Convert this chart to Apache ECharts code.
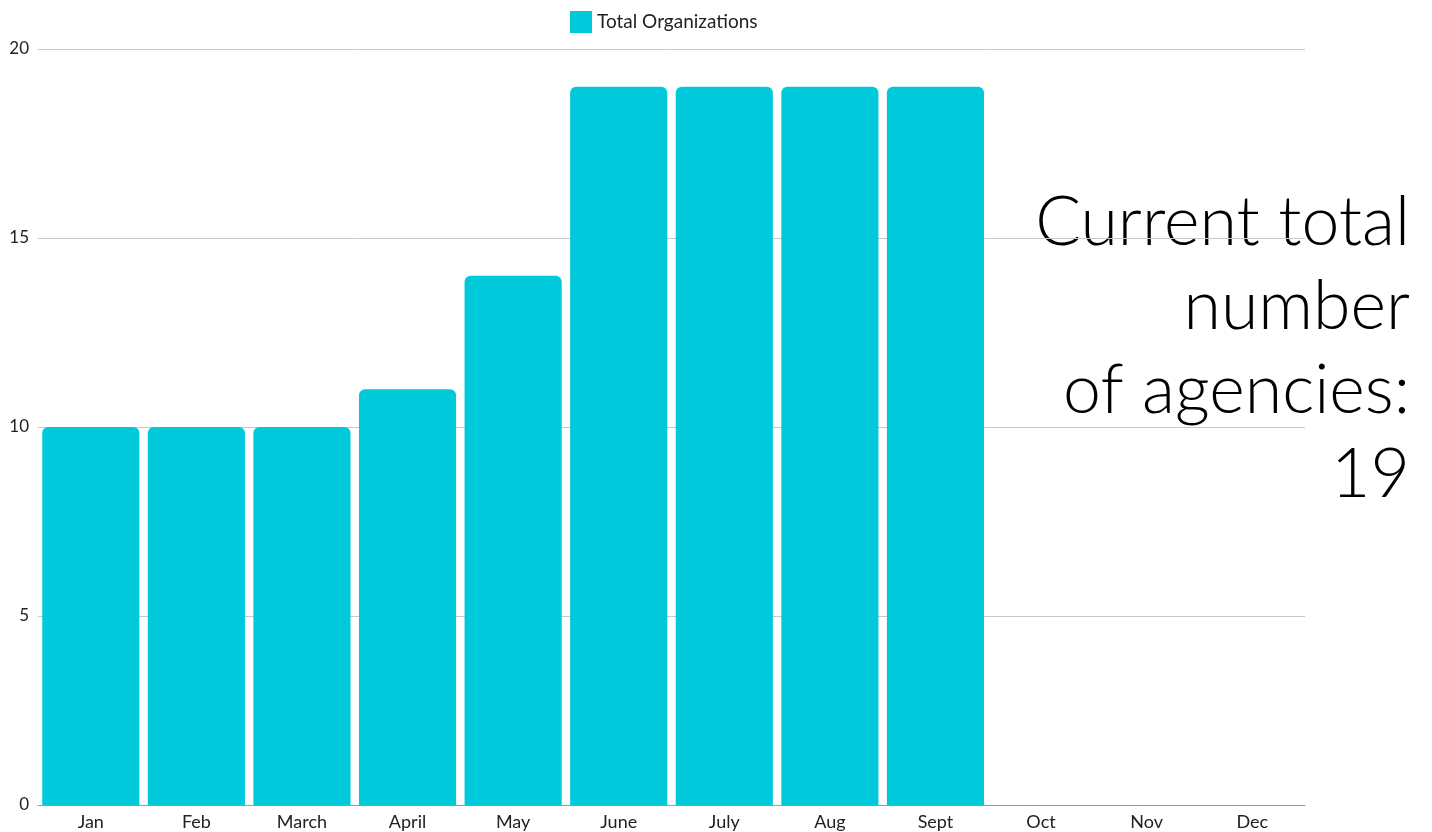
<!DOCTYPE html>
<html><head><meta charset="utf-8">
<script src="https://cdn.jsdelivr.net/npm/echarts@6/dist/echarts.min.js"></script>
<style>html,body{margin:0;padding:0;background:#fff}#c{width:1432px;height:832px}</style>
</head><body><div id="c"></div>
<script>
const categories = ['Jan','Feb','March','April','May','June','July','Aug','Sept','Oct','Nov','Dec'];
const totalOrganizations = [10,10,10,11,14,19,19,19,19,null,null,null];
const seriesName = 'Total Organizations';
const annotationLines = ['Current total', 'number', 'of agencies:', '19'];
const FONT = 'Lato';

const chart = echarts.init(document.getElementById('c'));
chart.setOption({
  animation: false,
  textStyle: { fontFamily: FONT },
  legend: {
    top: 6, left: 565,
    icon: 'rect',
    itemWidth: 22, itemHeight: 22, itemGap: 10,
    textStyle: { fontSize: 19, color: '#222', fontFamily: FONT },
    data: [seriesName]
  },
  grid: { left: 38, right: 127, top: 49, bottom: 27 },
  xAxis: {
    type: 'category', data: categories,
    axisLine: { lineStyle: { color: '#999' } },
    axisTick: { show: false },
    axisLabel: { fontSize: 18, color: '#222', margin: 8, fontFamily: FONT }
  },
  yAxis: {
    type: 'value', min: 0, max: 20, interval: 5,
    axisLabel: { fontSize: 17, color: '#222', margin: 9, fontFamily: FONT, align: 'right' },
    splitLine: { lineStyle: { color: '#c8c8c8' } }
  },
  series: [{
    name: seriesName, type: 'bar', data: totalOrganizations,
    barCategoryGap: '8%',
    itemStyle: { color: '#00c9db', borderRadius: [6,6,0,0] }
  }],
  graphic: annotationLines.map((t, i) => ({
    type: 'text', right: 22, top: 189 + i * 84,
    style: { text: t, font: '300 68px ' + FONT, fill: '#000', textAlign: 'right' }
  }))
});
</script></body></html>
